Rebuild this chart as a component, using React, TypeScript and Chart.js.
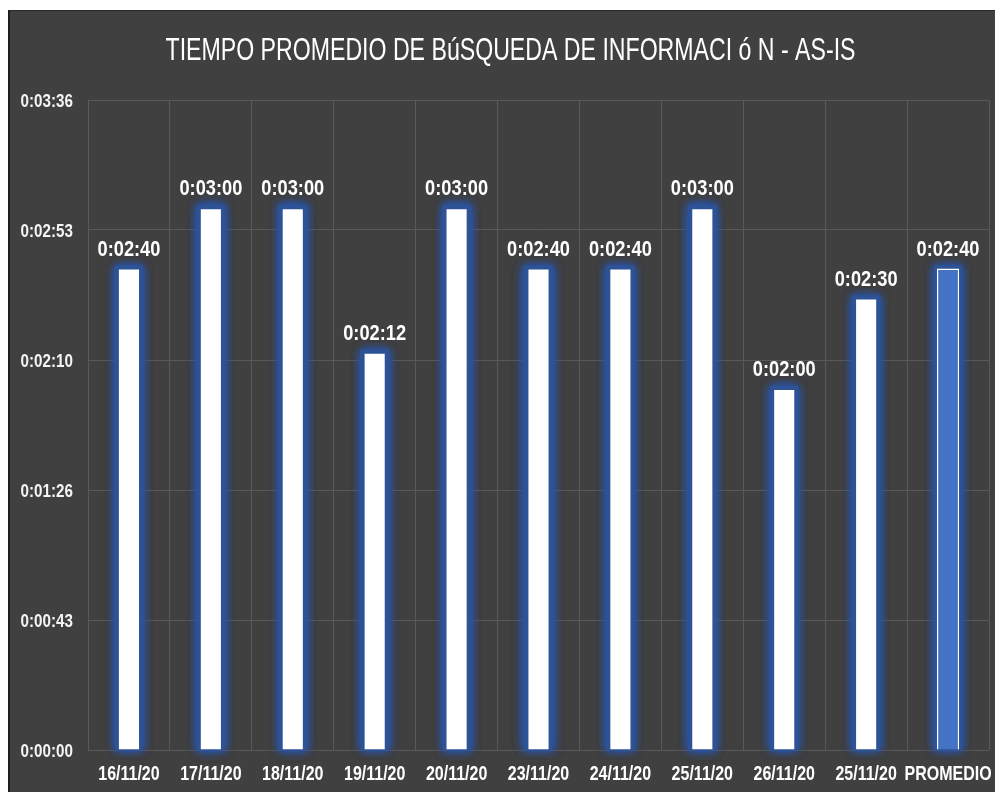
import React, { useEffect, useRef } from "react";
import { Chart, registerables } from "chart.js";

Chart.register(...registerables);

const categories = [
  "16/11/20", "17/11/20", "18/11/20", "19/11/20", "20/11/20",
  "23/11/20", "24/11/20", "25/11/20", "26/11/20", "25/11/20", "PROMEDIO",
];
// seconds
const searchTimes = [160, 180, 180, 132, 180, 160, 160, 180, 120, 150, 160];
const yTickValues = [0, 43.2, 86.4, 129.6, 172.8, 216];
const titleText = "TIEMPO PROMEDIO DE BúSQUEDA DE INFORMACI ó N - AS-IS";

const FONT = '"Liberation Sans", Arial, sans-serif';

function fmt(s: number): string {
  const t = Math.round(s);
  const h = Math.floor(t / 3600);
  const m = Math.floor((t % 3600) / 60);
  const sec = t % 60;
  return `${h}:${String(m).padStart(2, "0")}:${String(sec).padStart(2, "0")}`;
}

// draws horizontally condensed text (narrow font look)
function drawNarrow(
  ctx: CanvasRenderingContext2D,
  text: string,
  x: number,
  y: number,
  font: string,
  sx: number,
  align: "left" | "center" | "right",
  color = "#ffffff"
) {
  ctx.save();
  ctx.font = font;
  ctx.fillStyle = color;
  ctx.textAlign = align;
  ctx.textBaseline = "alphabetic";
  ctx.translate(x, y);
  ctx.scale(sx, 1);
  ctx.fillText(text, 0, 0);
  ctx.restore();
}

export default function App() {
  const ref = useRef<HTMLCanvasElement | null>(null);

  useEffect(() => {
    if (!ref.current) return;
    const isAvg = (i: number) => categories[i] === "PROMEDIO";

    const plugin = {
      id: "customDraw",
      beforeDraw(chart: any) {
        const ctx = chart.ctx;
        ctx.save();
        ctx.fillStyle = "#404040";
        ctx.fillRect(0, 0, chart.width, chart.height);
        ctx.restore();
      },
      beforeDatasetsDraw(chart: any) {
        // blue glow around bars
        const ctx = chart.ctx;
        const meta = chart.getDatasetMeta(0);
        ctx.save();
        meta.data.forEach((bar: any) => {
          const { x, y, base, width } = bar.getProps(["x", "y", "base", "width"], true);
          const l = x - width / 2;
          const top = Math.min(y, base);
          const h = Math.abs(base - y);
          ctx.fillStyle = "rgba(45,82,150,1)";
          ctx.shadowColor = "rgba(42,84,165,1)";
          ctx.shadowBlur = 9;
          for (let k = 0; k < 3; k++) {
            ctx.fillRect(l - 3, top - 3, width + 6, h + 3);
          }
        });
        ctx.restore();
      },
      afterDatasetsDraw(chart: any) {
        const ctx = chart.ctx;
        const meta = chart.getDatasetMeta(0);
        meta.data.forEach((bar: any, i: number) => {
          drawNarrow(ctx, fmt(searchTimes[i]), bar.x, bar.y - 13, `bold 22px ${FONT}`, 0.83, "center");
        });
      },
      afterDraw(chart: any) {
        const ctx = chart.ctx;
        const xs = chart.scales.x;
        const ys = chart.scales.y;
        // x tick labels
        categories.forEach((c, i) => {
          drawNarrow(ctx, c, xs.getPixelForTick(i), 769, `bold 20px ${FONT}`, 0.8, "center");
        });
        // y tick labels
        yTickValues.forEach((v) => {
          drawNarrow(ctx, fmt(v), chart.chartArea.left - 15, ys.getPixelForValue(v) + 7, `bold 19px ${FONT}`, 0.8, "right", "#f4f4f4");
        });
        // title
        ctx.save();
        ctx.font = `31px ${FONT}`;
        const w = ctx.measureText(titleText).width;
        ctx.restore();
        const sx = 690 / w;
        drawNarrow(ctx, titleText, chart.width / 2 + 8, 49, `31px ${FONT}`, sx, "center");
      },
    };

    const chart = new Chart(ref.current, {
      type: "bar",
      data: {
        labels: categories,
        datasets: [
          {
            data: searchTimes,
            backgroundColor: categories.map((_, i) => (isAvg(i) ? "#4472C4" : "#ffffff")),
            borderColor: categories.map((_, i) => (isAvg(i) ? "#ffffff" : "#2F5597")),
            borderWidth: categories.map((_, i) => (isAvg(i) ? 1.5 : 1)),
            categoryPercentage: 1,
            barPercentage: 0.27,
          },
        ],
      },
      options: {
        responsive: false,
        animation: false,
        layout: { padding: { top: 89, right: 6, left: 0, bottom: 0 } },
        plugins: {
          legend: { display: false },
          title: { display: false },
          tooltip: { enabled: false },
        },
        scales: {
          x: {
            grid: { color: "#595959", lineWidth: 1, drawTicks: false, offset: true },
            border: { display: false },
            ticks: { display: false },
            afterFit(scale: any) {
              scale.height = 42;
            },
          },
          y: {
            min: 0,
            max: 216,
            grid: { color: "#595959", lineWidth: 1, drawTicks: false },
            border: { display: false },
            afterBuildTicks(scale: any) {
              scale.ticks = yTickValues.map((v) => ({ value: v }));
            },
            ticks: { display: false },
            afterFit(scale: any) {
              scale.width = 78;
            },
          },
        },
      },
      plugins: [plugin],
    });
    return () => chart.destroy();
  }, []);

  return (
    <div
      style={{
        position: "absolute",
        left: 8,
        top: 10,
        width: 987,
        height: 782,
        borderLeft: "2px solid #1e1e1e",
        borderTop: "1px solid #2a2a2a",
        boxSizing: "border-box",
        background: "#404040",
      }}
    >
      <canvas ref={ref} width={985} height={781} style={{ display: "block" }} />
    </div>
  );
}
